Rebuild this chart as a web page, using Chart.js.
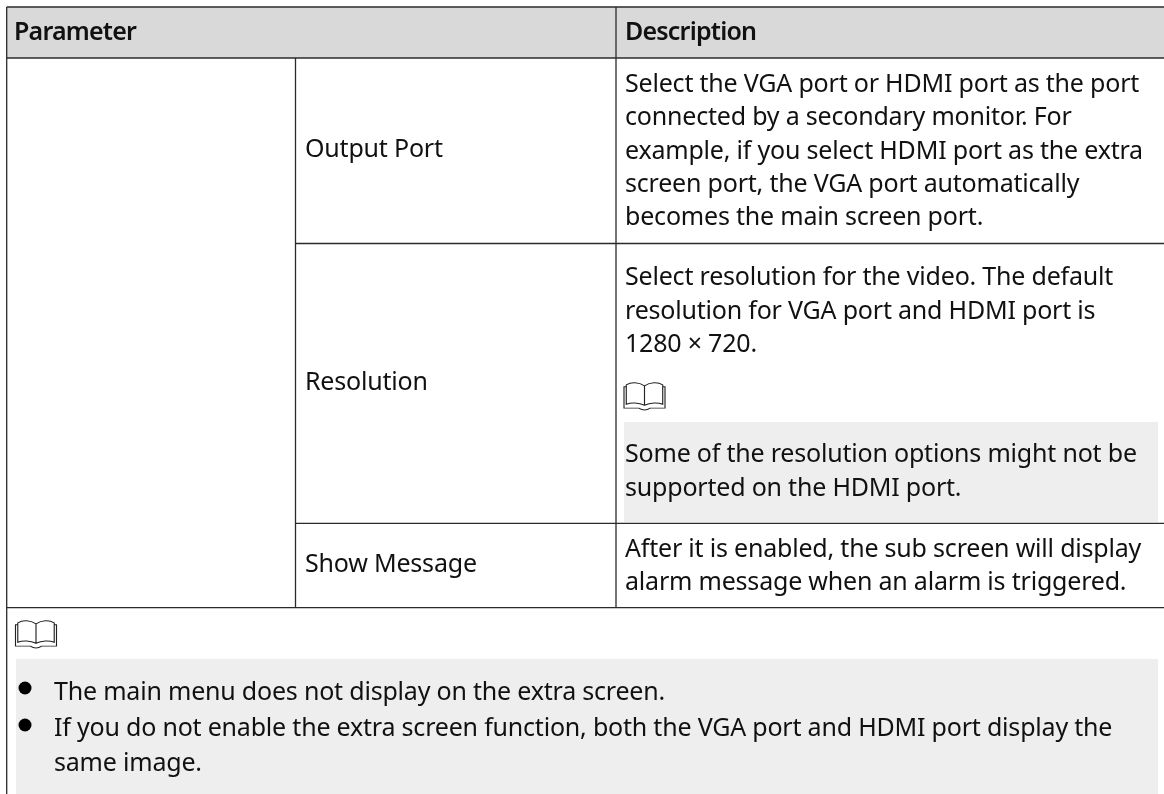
<!DOCTYPE html>
<html>
<head>
<meta charset="utf-8">
<script src="https://cdn.jsdelivr.net/npm/chart.js@4/dist/chart.umd.min.js"></script>
<style>
  html, body { margin: 0; padding: 0; background: #fff; }
  #wrap { width: 1164px; height: 794px; position: relative; }
</style>
</head>
<body>
<div id="wrap"><canvas id="tableChart"></canvas></div>
<script>
// the picture is a spec table with no plotted values, only text
const headers = ['Parameter', 'Description'];
const paramNames = ['Output Port', 'Resolution', 'Show Message'];
const outputPortLines = [
  'Select the VGA port or HDMI port as the port',
  'connected by a secondary monitor. For',
  'example, if you select HDMI port as the extra',
  'screen port, the VGA port automatically',
  'becomes the main screen port.'
];
const resolutionLines = [
  'Select resolution for the video. The default',
  'resolution for VGA port and HDMI port is',
  '1280 \u00d7 720.'
];
const resolutionNote = [
  'Some of the resolution options might not be',
  'supported on the HDMI port.'
];
const showMessageLines = [
  'After it is enabled, the sub screen will display',
  'alarm message when an alarm is triggered.'
];
const footNotes = [
  'The main menu does not display on the extra screen.',
  'If you do not enable the extra screen function, both the VGA port and HDMI port display the',
  'same image.'
];

const FONT = '"Noto Sans"';
const FONT_SIZE = 25;
const LINE_COLOR = '#2a2a2a';
const TEXT_COLOR = '#111111';

// page units are px: x 0-1164, y 0-794 going down
const tablePlugin = {
  id: 'tablePlugin',
  beforeDraw(chart) {
    const { ctx, scales: { x, y } } = chart;
    const px = v => x.getPixelForValue(v);
    const py = v => y.getPixelForValue(v);

    function fill(x0, y0, x1, y1, color) {
      ctx.fillStyle = color;
      ctx.fillRect(px(x0), py(y0), px(x1) - px(x0), py(y1) - py(y0));
    }
    function line(x0, y0, x1, y1) {
      ctx.strokeStyle = LINE_COLOR;
      ctx.lineWidth = 1.3;
      ctx.beginPath();
      ctx.moveTo(px(x0), py(y0));
      ctx.lineTo(px(x1), py(y1));
      ctx.stroke();
    }
    function text(str, x0, baseline, bold) {
      ctx.fillStyle = TEXT_COLOR;
      ctx.font = (bold ? '600 ' : '') + FONT_SIZE + 'px ' + FONT;
      ctx.letterSpacing = bold ? '-0.8px' : '-0.2px';
      ctx.textBaseline = 'alphabetic';
      ctx.fillText(str, px(x0), py(baseline));
    }
    function book(x0, y0) {
      ctx.save();
      ctx.translate(px(x0), py(y0));
      ctx.scale(41 / 36, 30 / 31);
      ctx.strokeStyle = '#222222';
      ctx.lineWidth = 1;
      ctx.beginPath();
      ctx.moveTo(18, 4);
      ctx.bezierCurveTo(13, 0, 6, 0, 2, 3);
      ctx.lineTo(2, 23);
      ctx.bezierCurveTo(6, 21, 13, 21, 18, 24);
      ctx.bezierCurveTo(23, 21, 30, 21, 34, 23);
      ctx.lineTo(34, 3);
      ctx.bezierCurveTo(30, 0, 23, 0, 18, 4);
      ctx.lineTo(18, 24);
      ctx.moveTo(2, 5);
      ctx.lineTo(0, 5);
      ctx.lineTo(0, 27);
      ctx.lineTo(13, 27);
      ctx.quadraticCurveTo(18, 31, 23, 27);
      ctx.lineTo(36, 27);
      ctx.lineTo(36, 5);
      ctx.lineTo(34, 5);
      ctx.stroke();
      ctx.restore();
    }

    fill(7, 7, 1164, 58, '#d9d9d9');
    fill(624, 422, 1158, 522, '#eeeeee');
    fill(16, 659, 1158, 794, '#eeeeee');

    line(6.7, 7, 1164, 7);
    line(6.7, 58, 1164, 58);
    line(295.5, 243.5, 1164, 243.5);
    line(295.5, 523.3, 1164, 523.3);
    line(6.7, 607.7, 1164, 607.7);
    line(6.7, 7, 6.7, 794);
    line(295.5, 58, 295.5, 607.7);
    line(616, 7, 616, 607.7);

    text(headers[0], 14, 40, true);
    text(headers[1], 625, 40, true);
    text(paramNames[0], 305, 157);
    text(paramNames[1], 305, 390);
    text(paramNames[2], 305, 572);

    const outputPortY = [92, 125, 159, 192, 225];
    const resolutionY = [285, 318.5, 352];
    const resolutionNoteY = [462, 496];
    const showMessageY = [556.5, 589.5];
    const footNoteY = [700, 736, 771];
    outputPortLines.forEach((s, i) => text(s, 625, outputPortY[i]));
    resolutionLines.forEach((s, i) => text(s, 625, resolutionY[i]));
    resolutionNote.forEach((s, i) => text(s, 625, resolutionNoteY[i]));
    showMessageLines.forEach((s, i) => text(s, 625, showMessageY[i]));
    footNotes.forEach((s, i) => text(s, 54, footNoteY[i]));

    book(624, 382);
    book(15.5, 620);

    ctx.fillStyle = '#000000';
    [688, 725].forEach(cy => {
      ctx.beginPath();
      ctx.arc(px(25), py(cy), 6.5, 0, Math.PI * 2);
      ctx.fill();
    });
  }
};

new Chart(document.getElementById('tableChart'), {
  type: 'scatter',
  data: { datasets: [{ data: [] }] },
  options: {
    responsive: true,
    maintainAspectRatio: false,
    animation: false,
    layout: { padding: 0 },
    plugins: { legend: { display: false }, tooltip: { enabled: false } },
    scales: {
      x: { type: 'linear', display: false, min: 0, max: 1164 },
      y: { type: 'linear', display: false, min: 0, max: 794, reverse: true }
    }
  },
  plugins: [tablePlugin]
});
</script>
</body>
</html>
